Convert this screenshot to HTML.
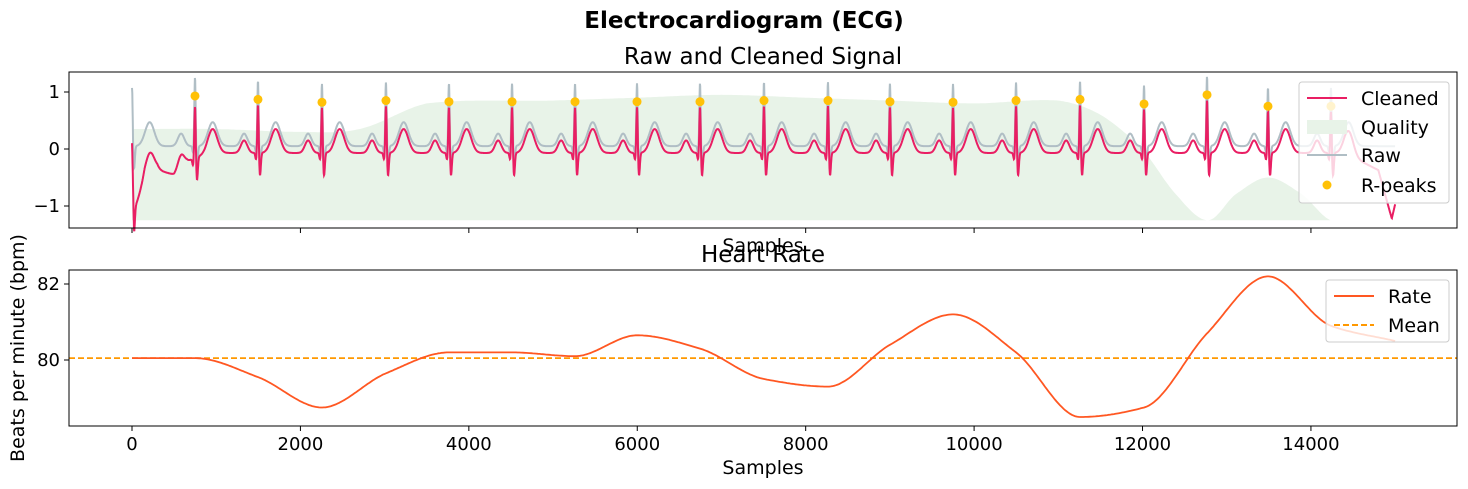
<!DOCTYPE html>
<html><head><meta charset="utf-8"><style>
body{margin:0;background:#fff;}
svg{display:block;font-family:"DejaVu Sans","Liberation Sans",sans-serif;}
</style></head><body>
<svg id="fig" width="1468" height="489" viewBox="0 0 1468 489" xmlns="http://www.w3.org/2000/svg">
<text x="744" y="28" text-anchor="middle" font-size="23" font-weight="bold">Electrocardiogram (ECG)</text>
<text x="763" y="64" text-anchor="middle" font-size="23">Raw and Cleaned Signal</text>
<text x="763" y="262" text-anchor="middle" font-size="23">Heart Rate</text>
<text x="763" y="252" text-anchor="middle" font-size="19">Samples</text>
<text x="763" y="474" text-anchor="middle" font-size="19">Samples</text>
<text transform="translate(24,348) rotate(-90)" text-anchor="middle" font-size="19">Beats per minute (bpm)</text>
<g id="topg"></g>
<g id="botg"></g>
</svg>
<script>
const peakSamples=[748,1496,2256,3016,3764,4513,5261,5997,6745,7505,8265,9001,9750,10498,11258,12018,12766,13490,14238];
const peakValues=[0.93,0.87,0.82,0.85,0.83,0.83,0.83,0.83,0.83,0.85,0.85,0.83,0.82,0.85,0.87,0.79,0.95,0.75,0.75];
const qualitySamples=[0,1000,2000,2700,3500,5000,6000,7000,8000,9000,10000,11000,11500,12000,12400,12777,13100,13490,13900,14230];
const qualityValues=[0.35,0.35,0.3,0.35,0.8,0.85,0.9,0.95,0.9,0.85,0.8,0.85,0.6,0.0,-0.8,-1.25,-0.8,-0.5,-0.8,-1.25];
const rateSamples=[0,748,1496,2256,3016,3764,4513,5261,5997,6745,7505,8265,9001,9750,10498,11258,12018,12766,13490,14238,15000];
const rateValues=[80.05,80.05,79.55,78.75,79.65,80.2,80.2,80.1,80.65,80.3,79.5,79.3,80.4,81.2,80.2,78.5,78.75,80.7,82.2,80.9,80.5];
const rateMean=80.05;
const xTicks=[0,2000,4000,6000,8000,10000,12000,14000];
const topYTicks=[1,0,-1];
const botYTicks=[80,82];
const NS="http://www.w3.org/2000/svg";
const L=69,R=1457;
const xs=s=>132+s*0.08421;
const yTop=v=>149-v*57;
const yBot=v=>360-(v-80)*38;
function el(t,a,p){const e=document.createElementNS(NS,t);for(const k in a)e.setAttribute(k,a[k]);p.appendChild(e);return e;}
function lin(xa,ya,x){if(x<=xa[0])return ya[0];for(let i=1;i<xa.length;i++)if(x<=xa[i]){const t=(x-xa[i-1])/(xa[i]-xa[i-1]);return ya[i-1]+t*(ya[i]-ya[i-1]);}return ya[ya.length-1];}
function smooth(xa,ya,x){
 let i=1;while(i<xa.length-1&&x>xa[i])i++;
 const i0=Math.max(i-2,0),i1=i-1,i2=i,i3=Math.min(i+1,xa.length-1);
 const t=Math.min(1,Math.max(0,(x-xa[i1])/(xa[i2]-xa[i1])));
 const p0=ya[i0],p1=ya[i1],p2=ya[i2],p3=ya[i3];
 const m1=(p2-p0)/2,m2=(p3-p1)/2,t2=t*t,t3=t2*t;
 return (2*t3-3*t2+1)*p1+(t3-2*t2+t)*m1+(-2*t3+3*t2)*p2+(t3-t2)*m2;}
function monotone(xa,ya,x){
 const n=xa.length,d=[],m=[];
 for(let i=0;i<n-1;i++)d.push((ya[i+1]-ya[i])/(xa[i+1]-xa[i]));
 m[0]=d[0];m[n-1]=d[n-2];
 for(let i=1;i<n-1;i++)m[i]=(d[i-1]*d[i]<=0)?0:2/(1/d[i-1]+1/d[i]);
 let i=0;while(i<n-2&&x>xa[i+1])i++;
 const h=xa[i+1]-xa[i],t=Math.min(1,Math.max(0,(x-xa[i])/h)),t2=t*t,t3=t2*t;
 return (2*t3-3*t2+1)*ya[i]+(t3-2*t2+t)*h*m[i]+(-2*t3+3*t2)*ya[i+1]+(t3-t2)*h*m[i+1];}
const gs=(t,c,w)=>Math.exp(-((t-c)*(t-c))/(2*w*w));
function beat(t,pk,raw){return 0.22*gs(t,-165,38)-0.12*gs(t,-22,9)+(pk+(raw?0.3:0))*gs(t,0,8)-0.4*gs(t,24,10)+0.42*gs(t,210,55);}
function ecg(s,raw){
 let v=raw?0.05:-0.07;
 const pks=[0].concat(peakSamples),vals=[raw?0.75:0].concat(peakValues);
 for(let i=0;i<pks.length;i++){const d=s-pks[i];if(d>-450&&d<550)v+=beat(d,vals[i],raw);}
 if(!raw){v+=lin([0,25,150,300,500,650,900],[0.2,-1.0,-0.5,-0.3,-0.38,-0.15,0],s);
  v+=lin([14400,14800,14960,15000],[0,-0.3,-1.15,-0.9],s);}
 return v;}
const topG=document.getElementById('topg');


let qd='M'+xs(0)+','+yTop(-1.25);
for(let s=0;s<=14230;s+=20)qd+=' L'+xs(s).toFixed(1)+','+yTop(smooth(qualitySamples,qualityValues,s)).toFixed(1);
qd+=' L'+xs(14230)+','+yTop(-1.25)+'Z';
const q=el('path',{d:qd,fill:'#e8f3e8'},topG);


let rd='',cd='';
for(let s=0;s<=15000;s+=3){const x=xs(s).toFixed(1);rd+=(s?' L':'M')+x+','+yTop(ecg(s,true)).toFixed(1);cd+=(s?' L':'M')+x+','+yTop(ecg(s,false)).toFixed(1);}
const rp=el('path',{d:rd,fill:'none',stroke:'#b0bec5','stroke-width':2},topG);


const cp=el('path',{d:cd,fill:'none',stroke:'#e91e63','stroke-width':2},topG);


peakSamples.forEach((s,i)=>{const c=el('circle',{cx:xs(s),cy:yTop(peakValues[i]),r:4.5,fill:'#ffc107'},topG);

});
el('rect',{x:L,y:72,width:R-L,height:156,fill:'none',stroke:'#000','stroke-width':1},topG);
xTicks.forEach(t=>{el('line',{x1:xs(t),x2:xs(t),y1:228,y2:233,stroke:'#000'},topG);});
topYTicks.forEach(t=>{el('line',{x1:L-5,x2:L,y1:yTop(t),y2:yTop(t),stroke:'#000'},topG);
const tx=el('text',{x:L-9,y:yTop(t)+6,'text-anchor':'end','font-size':18},topG);tx.textContent=t<0?'\u22121':String(t);

});
const lg=el('g',{},topG);


el('rect',{x:1299,y:82,width:150,height:121,rx:3,fill:'rgba(255,255,255,0.8)',stroke:'#ccc'},lg);
el('line',{x1:1307,x2:1347,y1:98,y2:98,stroke:'#e91e63','stroke-width':2},lg);
el('rect',{x:1307,y:120,width:40,height:14,fill:'#e8f3e8'},lg);
el('line',{x1:1307,x2:1347,y1:155,y2:155,stroke:'#b0bec5','stroke-width':2},lg);
el('circle',{cx:1327,cy:185,r:4.5,fill:'#ffc107'},lg);
[['Cleaned',105],['Quality',134],['Raw',162],['R-peaks',192]].forEach(([t,y])=>{const e=el('text',{x:1361,y:y,'font-size':19},lg);e.textContent=t;});
const botG=document.getElementById('botg');


const ml=el('line',{x1:L,x2:R,y1:yBot(rateMean),y2:yBot(rateMean),stroke:'#ff9800','stroke-width':1.8,'stroke-dasharray':'6,3'},botG);


let hd='';
for(let s=0;s<=15000;s+=20)hd+=(s?' L':'M')+xs(s).toFixed(1)+','+yBot(monotone(rateSamples,rateValues,s)).toFixed(1);
const hp=el('path',{d:hd,fill:'none',stroke:'#ff5722','stroke-width':1.8},botG);


el('rect',{x:L,y:270,width:R-L,height:156,fill:'none',stroke:'#000'},botG);
xTicks.forEach(t=>{el('line',{x1:xs(t),x2:xs(t),y1:426,y2:431,stroke:'#000'},botG);
const tx=el('text',{x:xs(t),y:450,'text-anchor':'middle','font-size':18},botG);tx.textContent=t;

});
botYTicks.forEach(t=>{el('line',{x1:L-5,x2:L,y1:yBot(t),y2:yBot(t),stroke:'#000'},botG);
const tx=el('text',{x:L-9,y:yBot(t)+6,'text-anchor':'end','font-size':18},botG);tx.textContent=t;

});
const lg2=el('g',{},botG);


el('rect',{x:1326,y:280,width:123,height:62,rx:3,fill:'rgba(255,255,255,0.8)',stroke:'#ccc'},lg2);
el('line',{x1:1334,x2:1374,y1:296,y2:296,stroke:'#ff5722','stroke-width':2},lg2);
el('line',{x1:1334,x2:1374,y1:325,y2:325,stroke:'#ff9800','stroke-width':2,'stroke-dasharray':'6,3'},lg2);
[['Rate',303],['Mean',332]].forEach(([t,y])=>{const e=el('text',{x:1388,y:y,'font-size':19},lg2);e.textContent=t;});
</script>
</body></html>
